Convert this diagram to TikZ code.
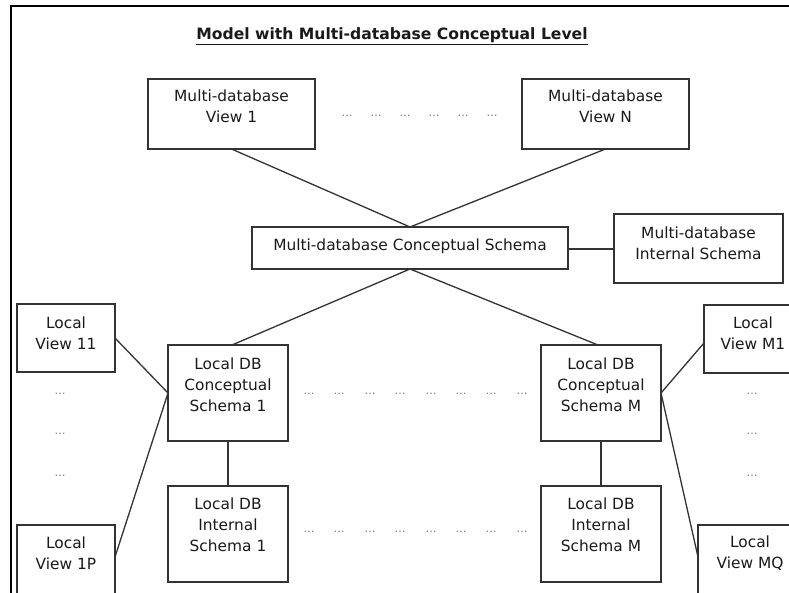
\documentclass[tikz,border=0pt]{standalone}
\usepackage{fontspec}
\setmainfont{DejaVu Sans}
\usetikzlibrary{calc}
\definecolor{ink}{HTML}{1A1A1A}
\definecolor{edgec}{HTML}{333333}
\definecolor{dotc}{HTML}{7A7A7A}
\begin{document}
\begin{tikzpicture}[x=1pt,y=-1pt,
  box/.style={draw=edgec, line width=1.4pt, rectangle, inner sep=0pt, outer sep=0pt},
  txt/.style={text=ink, align=center, font=\fontsize{15.4}{21}\selectfont, inner sep=0pt},
  dotsn/.style={text=dotc, font=\fontsize{11}{12}\selectfont, inner sep=0pt},
  link/.style={draw=edgec, line width=1.3pt}]
\useasboundingbox (0,0) rectangle (789,593);
\clip (0,0) rectangle (789,593);
\fill[white] (0,0) rectangle (789,593);
% frame
\draw[line width=1.5pt, black] (11,610) -- (11,6) -- (800,6);
% title
\node[text=ink, inner sep=0pt, font=\bfseries\fontsize{15.6}{18}\selectfont] (title) at (392,36) {\underline{Model with Multi-database Conceptual Level}};
% boxes
\node[box, minimum width=167, minimum height=70] (mv1) at (231.5,114) {};
\node[box, minimum width=167, minimum height=70] (mvn) at (605.5,114) {};
\node[box, minimum width=316, minimum height=42] (mcs) at (410,248) {};
\node[box, minimum width=169, minimum height=69] (mis) at (698.5,248.5) {};
\node[box, minimum width=120, minimum height=96] (ldb1) at (228,393) {};
\node[box, minimum width=120, minimum height=96] (ldbm) at (601,393) {};
\node[box, minimum width=120, minimum height=96] (lis1) at (228,534) {};
\node[box, minimum width=120, minimum height=96] (lism) at (601,534) {};
\node[box, minimum width=98, minimum height=68] (lv11) at (66,338) {};
\node[box, minimum width=98, minimum height=80] (lv1p) at (66,565) {};
\node[box, minimum width=98, minimum height=68] (lvm1) at (753,339) {};
\node[box, minimum width=104, minimum height=80] (lvmq) at (750,565) {};
% texts
\node[txt] (mv1t) at (231.5,106.5) {Multi-database\\View 1};
\node[txt] (mvnt) at (605.5,106.5) {Multi-database\\View N};
\node[txt] (mcst) at (410,246) {Multi-database Conceptual Schema};
\node[txt] (mist) at (698.5,243) {Multi-database\\Internal Schema};
\node[txt] (ldb1t) at (228,385) {Local DB\\Conceptual\\Schema 1};
\node[txt] (ldbmt) at (601,385) {Local DB\\Conceptual\\Schema M};
\node[txt] (lis1t) at (228,525) {Local DB\\Internal\\Schema 1};
\node[txt] (lismt) at (601,525) {Local DB\\Internal\\Schema M};
\node[txt] (lv11t) at (66,333) {Local\\View 11};
\node[txt] (lv1pt) at (66,553) {Local\\View 1P};
\node[txt] (lvm1t) at (753,333) {Local\\View M1};
\node[txt] (lvmqt) at (750,553) {Local\\View MQ};
% dots
\foreach \x [count=\i] in {347,376,405,434,463,492}
  \node[dotsn] (dta\i) at (\x,116) {\ldots};
\foreach \x [count=\i] in {309,339,370,400,431,461,491,522}
  \node[dotsn] (dtb\i) at (\x,394) {\ldots};
\foreach \x [count=\i] in {309,339,370,400,431,461,491,522}
  \node[dotsn] (dtc\i) at (\x,532) {\ldots};
\foreach \y [count=\i] in {394,434,476}
  \node[dotsn] (dtl\i) at (60,\y) {\ldots};
\foreach \y [count=\i] in {394,434,476}
  \node[dotsn] (dtr\i) at (752,\y) {\ldots};
% connectors
\draw[link] (mv1.south) -- (mcs.north);
\draw[link] (mvn.south) -- (mcs.north);
\draw[link] ([yshift=-1pt]mcs.east) -- ([yshift=-1pt]mcs.east -| mis.west);
\draw[link] (mcs.south) -- ([xshift=4pt]ldb1.north);
\draw[link] (mcs.south) -- ([xshift=-3pt]ldbm.north);
\draw[link] (ldb1.south) -- (lis1.north);
\draw[link] (ldbm.south) -- (lism.north);
\draw[link] (lv11.east) -- (ldb1.west);
\draw[link] ([yshift=-32pt]lv1p.north east) -- (ldb1.west);
\draw[link] (ldbm.east) -- ([yshift=-38pt]lvm1.north west);
\draw[link] (ldbm.east) -- ([yshift=-32pt]lvmq.north west);
\end{tikzpicture}
\end{document}
